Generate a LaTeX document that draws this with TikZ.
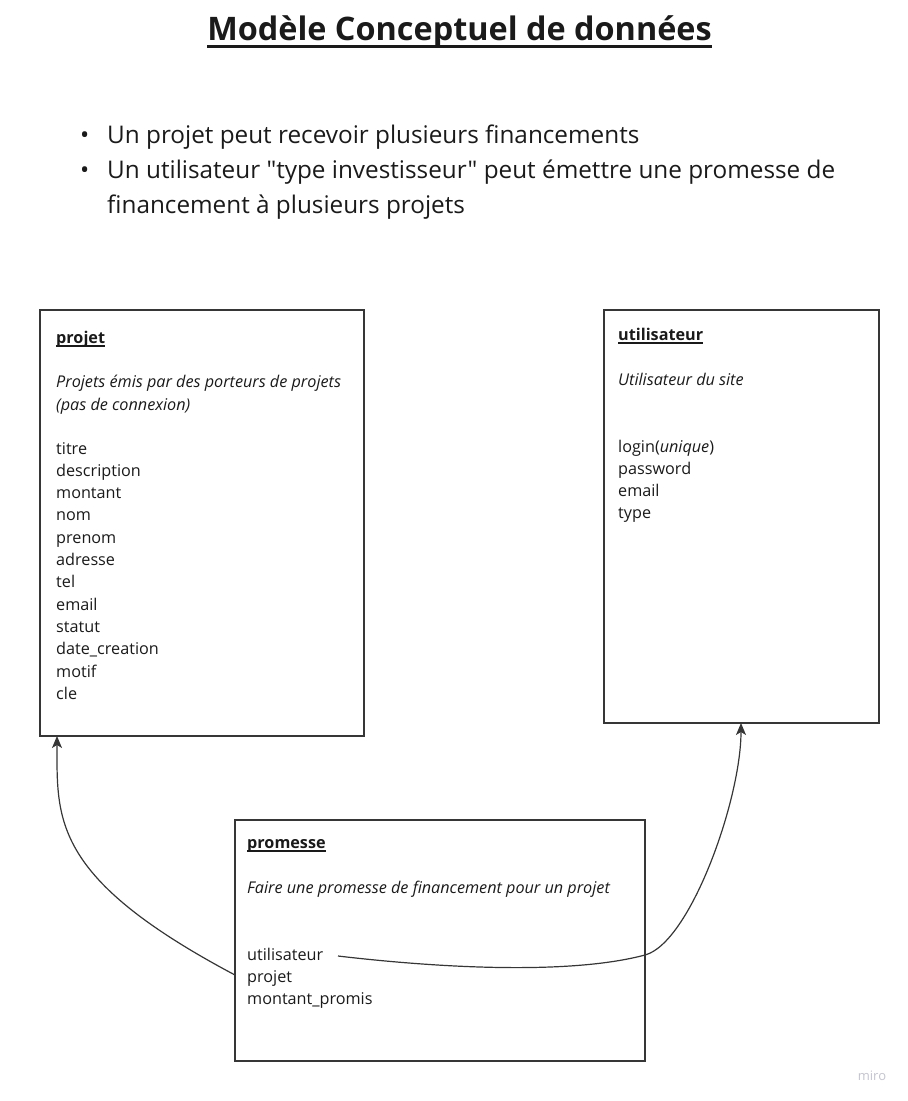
\documentclass[tikz,border=0pt]{standalone}
\usepackage{fontspec}
\setmainfont{Open Sans}
\newfontfamily\plainos{Open Sans}
\usetikzlibrary{arrows.meta}
\definecolor{ink}{HTML}{1A1A1A}
\definecolor{frame}{HTML}{363636}
\definecolor{wm}{HTML}{C4C4CE}
\tikzset{
  entbox/.style={draw=frame, line width=1.3pt, fill=none},
  txt/.style={anchor=base west, inner sep=0pt, text=ink, font=\fontsize{16.2}{19}\selectfont},
  ttl/.style={txt, font=\fontsize{16.2}{19}\selectfont\bfseries},
  ital/.style={txt, font=\fontsize{16.2}{19}\selectfont\itshape},
  bul/.style={anchor=base west, inner sep=0pt, text=ink, font=\fontsize{24.3}{28}\selectfont\plainos},
  ulline/.style={draw=ink, line width=1.5pt},
  link/.style={draw=frame, line width=1.2pt, -{Stealth[length=12pt,width=10pt,inset=3pt]}},
}
\begin{document}
\begin{tikzpicture}[x=1pt,y=-1pt]
\useasboundingbox (0,0) rectangle (908,1101);
% title
\node[anchor=base, inner sep=0pt, text=ink, font=\fontsize{32.4}{38}\selectfont\bfseries] (title) at (459.5,40) {Modèle Conceptuel de données};
\draw[draw=ink, line width=3pt] ([yshift=-6.5pt]title.base west) -- ([yshift=-6.5pt]title.base east);
% bullets
\node[bul] (b1d) at (80,143) {•};
\node[bul] (b1) at (107,143) {Un projet peut recevoir plusieurs financements};
\node[bul] (b2d) at (80,178) {•};
\node[bul] (b2) at (107,178) {Un utilisateur "type investisseur" peut émettre une promesse de};
\node[bul] (b3) at (107,213) {financement à plusieurs projets};
% projet box
\draw[entbox] (40,310) rectangle (364,736);
\coordinate (projB) at (57,736);
\node[ttl] (pt) at (56,343) {projet};
\draw[ulline] ([yshift=-3pt]pt.base west) -- ([yshift=-3pt]pt.base east);
\node[ital] (pd1) at (56,387) {Projets émis par des porteurs de projets};
\node[ital] (pd2) at (56,410) {(pas de connexion)};
\foreach \t [count=\i] in {titre,description,montant,nom,prenom,adresse,tel,email,statut,date\_creation,motif,cle}
  \node[txt] (pf\i) at (56,{454+22.3*(\i-1)}) {\t};
% utilisateur box
\draw[entbox] (604,310) rectangle (879,723);
\coordinate (utilB) at (741,723);
\node[ttl] (ut) at (618,340) {utilisateur};
\draw[ulline] ([yshift=-3pt]ut.base west) -- ([yshift=-3pt]ut.base east);
\node[ital] (ud) at (618,385) {Utilisateur du site};
\node[txt] (uf1) at (618,452) {login(\textit{unique})};
\node[txt] (uf2) at (618,474.3) {password};
\node[txt] (uf3) at (618,496.6) {email};
\node[txt] (uf4) at (618,518.9) {type};
% promesse box
\draw[entbox] (235,820) rectangle (645,1061);
\node[ttl] (prt) at (247,848) {promesse};
\draw[ulline] ([yshift=-3pt]prt.base west) -- ([yshift=-3pt]prt.base east);
\node[ital] (prd) at (247,893) {Faire une promesse de financement pour un projet};
\node[txt] (prf1) at (247,960) {utilisateur};
\node[txt] (prf2) at (247,982.3) {projet};
\node[txt] (prf3) at (247,1004.6) {montant\_promis};
\coordinate (prL) at (235,975);
\coordinate (prU) at (338,956);
\coordinate (prM) at (645,955);
% connectors
\draw[link] (prL) .. controls (52,878) and (57,820) .. (projB);
\draw[link] (prU) .. controls (440,968) and (570,975) .. (prM) .. controls (690,943) and (741,800) .. (utilB);
% watermark
\node[anchor=base, inner sep=0pt, text=wm, font=\fontsize{13}{15}\selectfont] (miro) at (872,1080) {miro};
\end{tikzpicture}
\end{document}
